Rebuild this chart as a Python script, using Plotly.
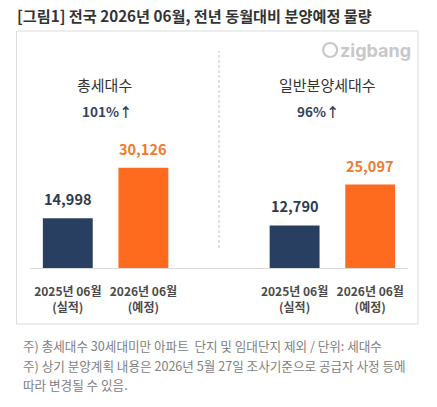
import plotly.graph_objects as go

# data
groups = ["총세대수", "일반분양세대수"]
growth = ["101%↑", "96%↑"]
periods = ["2025년 06월<br>(실적)", "2026년 06월<br>(예정)"]
values_total = [14998, 30126]
values_general = [12790, 25097]

title = "[그림1] 전국 2026년 06월, 전년 동월대비 분양예정 물량"
notes = [
    "주) 총세대수 30세대미만 아파트  단지 및 임대단지 제외 / 단위: 세대수",
    "주) 상기 분양계획 내용은 2026년 5월 27일 조사기준으로 공급자 사정 등에",
    "따라 변경될 수 있음.",
]

NAVY = "#283f62"
ORANGE = "#ff6b1e"
NAVY_TXT = "#2e3a4f"
ORANGE_TXT = "#f07a2c"
FONT = "Noto Sans CJK KR"

W, H = 437, 407
L, R, T, B = 29.5, 29, 135, 139


def px(x):
    # figure pixel x -> plot-area paper fraction
    return (x - L) / (W - L - R)


def py(y):
    return (H - B - y) / (H - T - B)


# category slots: two per group, one empty slot in between
cats = [f"{groups[0]}|{i}" for i in range(2)] + [" "] + [f"{groups[1]}|{i}" for i in range(2)]
bar_cats = [cats[0], cats[1], cats[3], cats[4]]
bar_vals = values_total + values_general
bar_cols = [NAVY, ORANGE, NAVY, ORANGE]
txt_cols = [NAVY_TXT, ORANGE_TXT, NAVY_TXT, ORANGE_TXT]

fig = go.Figure(go.Bar(
    x=bar_cats, y=bar_vals, marker=dict(color=bar_cols, line=dict(width=0)),
    hoverinfo="skip",
))

annotations = []
for c, v, tc in zip(bar_cats, bar_vals, txt_cols):
    annotations.append(dict(
        x=c, y=v, xref="x", yref="y", text=f"<b>{v:,}</b>", showarrow=False,
        yanchor="bottom", yshift=7, font=dict(family=FONT, size=14.5, color=tc),
    ))

# group headers
for xc, g, gr, gx in [(104, groups[0], growth[0], 107), (327, groups[1], growth[1], 318)]:
    annotations.append(dict(x=px(xc), y=py(85), xref="paper", yref="paper",
                            text=g, showarrow=False, xanchor="center", yanchor="middle",
                            font=dict(family=FONT, size=15, color="#333333")))
    annotations.append(dict(x=px(gx), y=py(111), xref="paper", yref="paper",
                            text=f"<b>{gr}</b>", showarrow=False, xanchor="center", yanchor="middle",
                            font=dict(family=FONT, size=13.5, color="#34435e")))

annotations.append(dict(x=px(14), y=py(15), xref="paper", yref="paper",
                        text=f"<b>{title}</b>", showarrow=False, xanchor="left", yanchor="middle",
                        font=dict(family=FONT, size=15.2, color="#333333")))
annotations.append(dict(x=px(413), y=py(50), xref="paper", yref="paper",
                        text="<b>zigbang</b>", showarrow=False, xanchor="right", yanchor="middle",
                        font=dict(family="Inter", size=18, color="#c8c8c8")))
for y, line in zip([345, 365, 384], notes):
    annotations.append(dict(x=px(20), y=py(y), xref="paper", yref="paper",
                            text=line, showarrow=False, xanchor="left", yanchor="middle",
                            font=dict(family=FONT, size=12.6, color="#808080")))

shapes = [
    # outer box
    dict(type="rect", xref="paper", yref="paper", x0=px(16), x1=px(418),
         y0=py(324), y1=py(31), line=dict(color="#dcdcdc", width=1)),
    # dashed divider
    dict(type="line", xref="x", yref="paper", x0=" ", x1=" ",
         y0=py(248), y1=py(51), line=dict(color="#c4c4c4", width=1, dash="3px,2px")),
    # logo icon
    dict(type="circle", xref="paper", yref="paper", x0=px(323), x1=px(337),
         y0=py(57), y1=py(43), line=dict(color="#c8c8c8", width=2.2)),
]

fig.update_layout(
    width=W, height=H,
    margin=dict(l=L, r=R, t=T, b=B),
    paper_bgcolor="white", plot_bgcolor="white",
    bargap=0.34, showlegend=False,
    xaxis=dict(type="category", categoryorder="array", categoryarray=cats,
               tickvals=bar_cats, ticktext=[f"<b>{p}</b>" for p in periods] * 2,
               showline=True, linecolor="#d9d9d9", linewidth=1, showgrid=False,
               ticks="", ticklabelstandoff=13,
               tickfont=dict(family=FONT, size=12, color="#4a4a4a"),
               fixedrange=True),
    yaxis=dict(range=[0, 40000], visible=False, fixedrange=True),
    annotations=annotations, shapes=shapes,
)

fig.write_html("out.html", config={"displayModeBar": False},
               post_script="document.body.style.margin='0';")
